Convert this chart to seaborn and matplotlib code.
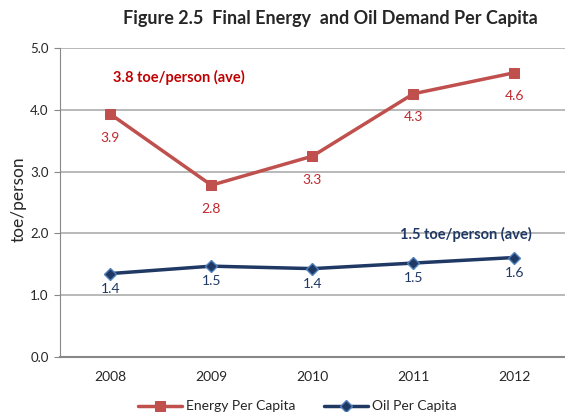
import matplotlib
matplotlib.use("Agg")
import matplotlib.pyplot as plt
import seaborn as sns
import pandas as pd

years = ["2008", "2009", "2010", "2011", "2012"]
energy = [3.93, 2.78, 3.25, 4.26, 4.60]
oil = [1.35, 1.47, 1.43, 1.52, 1.61]
energy_labels = ["3.9", "2.8", "3.3", "4.3", "4.6"]
oil_labels = ["1.4", "1.5", "1.4", "1.5", "1.6"]
yticks = [0.0, 1.0, 2.0, 3.0, 4.0, 5.0]

sns.set_style("white")
plt.rcParams["font.family"] = ["Lato", "DejaVu Sans"]

fig = plt.figure(figsize=(5.65, 4.12), dpi=100)
ax = fig.add_axes([0.106, 0.1335, 0.894, 0.75])

red = "#C0504D"
red_txt = "#C0282D"
navy = "#1F3864"
blue_edge = "#4F81BD"

df = pd.DataFrame({"Year": years, "Energy": energy, "Oil": oil})
sns.lineplot(data=df, x="Year", y="Energy", ax=ax, color=red, lw=2.5,
             marker="s", markersize=7, markeredgecolor=red,
             label="Energy Per Capita", sort=False)
sns.lineplot(data=df, x="Year", y="Oil", ax=ax, color=navy, lw=2.5,
             marker="D", markersize=6, markerfacecolor=navy,
             markeredgecolor=blue_edge, markeredgewidth=1,
             label="Oil Per Capita", sort=False)

for i, (v, t) in enumerate(zip(energy, energy_labels)):
    ax.annotate(t, (i, v), xytext=(0, -17), textcoords="offset points",
                ha="center", va="center", color=red_txt, fontsize=10)
for i, (v, t) in enumerate(zip(oil, oil_labels)):
    ax.annotate(t, (i, v), xytext=(0, -11), textcoords="offset points",
                ha="center", va="center", color=navy, fontsize=10)

ax.text(0.03, 4.53, "3.8 toe/person (ave)", color="#C00000", fontsize=10.5,
        fontweight="bold", ha="left", va="center")
ax.text(2.87, 1.98, "1.5 toe/person (ave)", color=navy, fontsize=10.5,
        fontweight="bold", ha="left", va="center")

ax.set_xlim(-0.5, 4.5)
ax.set_ylim(0, 5)
ax.set_yticks(yticks)
ax.set_yticklabels([f"{v:.1f}" for v in yticks])
ax.yaxis.grid(True, color="#A6A6A6", lw=1.1)
ax.set_axisbelow(True)
ax.set_xlabel("")
ax.set_ylabel("toe/person", fontsize=12.5)
ax.yaxis.set_label_coords(-0.066, 0.51)
ax.tick_params(axis="y", length=4, color="#888888", labelsize=9.5, pad=4, left=True)
ax.tick_params(axis="x", length=0, labelsize=10, pad=10)
for s in ["top", "right"]:
    ax.spines[s].set_visible(False)
ax.spines["left"].set_color("#888888")
ax.spines["bottom"].set_color("#888888")
ax.spines["bottom"].set_linewidth(1.5)

ax.legend(loc="upper center", bbox_to_anchor=(0.47, -0.1), ncol=2, frameon=False,
          fontsize=10, handlelength=3.2, columnspacing=2.0, handletextpad=0.3)

fig.text(0.585, 0.955, "Figure 2.5  Final Energy  and Oil Demand Per Capita",
         ha="center", va="center", fontsize=13, fontweight="bold")

fig.savefig("out.png", dpi=100)
